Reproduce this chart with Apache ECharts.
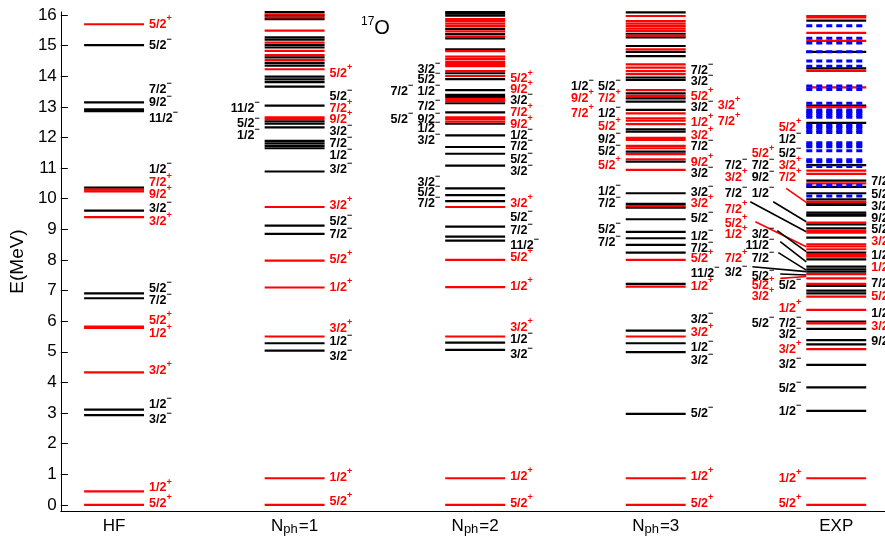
<!DOCTYPE html>
<html><head><meta charset="utf-8">
<script src="https://cdn.jsdelivr.net/npm/echarts@6/dist/echarts.min.js"></script>
<style>html,body{margin:0;padding:0;background:#fff}#c{width:885px;height:546px}</style>
</head><body><div id="c"></div>
<script>
// ---------------- data ----------------
const categories = ['HF', 'N_ph=1', 'N_ph=2', 'N_ph=3', 'EXP'];
const yTicks = [0,1,2,3,4,5,6,7,8,9,10,11,12,13,14,15,16];

// energy levels (MeV): positive parity (red) / negative parity (black)
const hfPos = [15.70, 10.30, 10.24, 9.40, 5.82, 5.78, 4.33, 0.44, 0.0];
const hfNeg = [15.02, 13.15, 12.92, 12.86, 10.36, 9.61, 6.91, 6.75, 3.11, 2.93];

const n1Pos = [16.02, 15.92, 15.49, 15.10, 14.83, 14.69, 14.53, 14.23, 12.66, 12.60, 9.73, 7.98, 7.10, 5.50, 0.87, 0.0];
const n1Neg = [16.10, 15.98, 15.87, 15.27, 15.20, 15.02, 14.94, 14.62, 14.44, 14.35, 13.99, 13.90, 13.81, 13.66, 13.04,
               12.53, 12.45, 12.33, 11.89, 11.81, 11.73, 11.65, 10.89, 9.12, 8.85, 5.28, 5.04];

const n2Pos = [15.87, 15.80, 15.72, 15.64, 15.47, 15.30, 14.82, 14.64, 14.56, 14.47, 14.40, 14.33, 14.17, 14.01,
               13.26, 13.19, 12.66, 12.60, 12.52, 9.73, 8.00, 7.11, 5.50, 0.87, 0.0];
const n2Neg = [16.10, 16.05, 15.98, 15.55, 15.38, 15.24, 14.88, 14.10, 13.91, 13.55, 13.39, 13.33, 13.12, 12.82,
               12.45, 12.07, 11.69, 11.47, 11.08, 10.34, 10.12, 9.92, 9.09, 8.76, 8.63, 5.30, 5.06];

const n3Pos = [15.97, 15.80, 15.72, 15.64, 15.56, 15.48, 15.33, 14.88, 14.39, 14.28, 14.17, 14.07, 13.55, 13.36,
               12.79, 12.63, 12.55, 12.44, 11.99, 11.92, 11.73, 11.65, 11.46, 11.29, 10.94, 9.76, 8.00, 7.13, 5.50, 0.87, 0.0];
const n3Neg = [16.09, 15.39, 15.27, 14.99, 14.80, 14.66, 13.96, 13.88, 13.44, 13.28, 13.17, 12.90, 12.27, 12.19,
               11.54, 11.21, 10.18, 9.83, 9.71, 9.33, 8.92, 8.71, 8.49, 8.24, 7.22, 5.69, 5.28, 4.99, 2.97];

const expPos = [15.97, 15.92, 15.42, 15.16, 14.18, 13.64, 12.99, 10.92, 10.81, 10.50, 9.90, 9.22, 8.95, 8.89, 8.51,
                8.44, 8.35, 8.16, 8.11, 7.54, 7.40, 7.22, 6.80, 6.37, 5.93, 5.09, 0.87, 0.0];
const expNeg = [15.82, 14.80, 14.26, 13.04, 12.48, 11.10, 10.59, 10.39, 10.18, 9.98, 9.85, 9.80, 9.55, 9.49, 9.45,
                9.16, 9.03, 8.73, 8.24, 8.02, 7.78, 7.69, 7.62, 7.15, 7.00, 6.91, 5.99, 5.75, 5.38, 5.24, 4.57, 3.84, 3.07];
const expUnknown = [15.65, 15.24, 15.09, 14.80, 14.50, 14.33, 13.68, 13.57, 13.12, 12.90, 12.84, 12.79, 12.72, 12.66,
                    12.41, 12.36, 12.30, 12.22, 12.16, 11.83, 11.76, 11.70, 11.57, 11.27, 11.21, 11.05, 10.44, 10.09];

// level labels: [spin, parity, label energy, slot]
const hfLabelsR = [['5/2','+',15.70,0],['5/2','-',15.02,0],['7/2','-',13.58,0],['9/2','-',13.15,0],['11/2','-',12.63,0],
  ['1/2','-',10.95,0],['7/2','+',10.52,0],['9/2','+',10.15,0],['3/2','-',9.69,0],['3/2','+',9.25,0],['5/2','-',7.07,0],
  ['7/2','-',6.67,0],['5/2','+',6.01,0],['1/2','+',5.61,0],['3/2','+',4.38,0],['1/2','-',3.27,0],['3/2','-',2.78,0],
  ['1/2','+',0.55,0],['5/2','+',0.05,0]];
const n1LabelsR = [['5/2','+',14.08,0],['5/2','-',13.35,0],['7/2','+',12.95,0],['9/2','+',12.60,0],['3/2','-',12.19,0],
  ['7/2','-',11.79,0],['1/2','-',11.40,0],['3/2','-',10.94,0],['3/2','+',9.77,0],['5/2','-',9.27,0],['7/2','-',8.82,0],
  ['5/2','+',8.02,0],['1/2','+',7.11,0],['3/2','+',5.77,0],['1/2','-',5.33,0],['3/2','-',4.84,0],['1/2','+',0.90,0],['5/2','+',0.11,0]];
const n1LabelsL = [['11/2','-',12.95,0],['5/2','-',12.44,0],['1/2','-',12.05,0]];
const n2LabelsR = [['5/2','+',13.91,0],['9/2','+',13.57,0],['3/2','-',13.22,0],['7/2','+',12.82,0],['9/2','+',12.41,0],
  ['1/2','-',12.06,0],['7/2','-',11.70,0],['5/2','-',11.27,0],['3/2','-',10.88,0],['3/2','+',9.85,0],['5/2','-',9.39,0],
  ['7/2','-',8.96,0],['11/2','-',8.47,0],['5/2','+',8.09,0],['1/2','+',7.13,0],['3/2','+',5.80,0],['1/2','-',5.39,0],
  ['3/2','-',4.90,0],['1/2','+',0.92,0],['5/2','+',0.05,0]];
const n2LabelsL = [['3/2','-',14.22,0],['5/2','-',13.88,0],['1/2','-',13.50,0],['7/2','-',13.50,1],['7/2','-',13.01,0],
  ['9/2','-',12.60,0],['5/2','-',12.60,1],['1/2','-',12.30,0],['3/2','-',11.90,0],['3/2','-',10.52,0],['5/2','-',10.20,0],['7/2','-',9.83,0]];
const n3LabelsR = [['7/2','-',14.18,0],['3/2','-',13.82,0],['5/2','+',13.33,0],['3/2','-',12.99,0],['3/2','+',13.03,1],
  ['1/2','+',12.48,0],['7/2','+',12.52,1],['3/2','+',12.08,0],['7/2','-',11.70,0],['9/2','+',11.19,0],['3/2','-',10.81,0],
  ['3/2','-',10.20,0],['3/2','+',9.83,0],['5/2','-',9.36,0],['1/2','-',8.78,0],['7/2','-',8.38,0],['5/2','+',8.06,0],
  ['11/2','-',7.56,0],['1/2','+',7.13,0],['3/2','-',6.04,0],['3/2','+',5.63,0],['1/2','-',5.15,0],['3/2','-',4.73,0],
  ['5/2','-',2.97,0],['1/2','+',0.92,0],['5/2','+',0.05,0]];
const n3LabelsL = [['5/2','-',13.66,0],['1/2','-',13.66,1],['7/2','+',13.26,0],['9/2','+',13.26,1],['1/2','-',12.79,0],
  ['7/2','+',12.79,1],['5/2','+',12.35,0],['9/2','-',11.94,0],['5/2','-',11.54,0],['5/2','+',11.10,0],['1/2','-',10.23,0],
  ['7/2','-',9.83,0],['5/2','-',8.98,0],['7/2','-',8.57,0]];
const expLabelsL = [['5/2','+',12.33,0],['1/2','-',11.92,0],['5/2','-',11.46,0],['5/2','+',11.46,1],['3/2','+',11.08,0],
  ['7/2','-',11.08,1],['7/2','-',11.08,2],['7/2','+',10.70,0],['9/2','-',10.70,1],['3/2','+',10.70,2],['1/2','-',10.18,1],
  ['7/2','-',10.18,2],['7/2','+',9.65,2],['5/2','+',9.18,2],['3/2','-',8.82,1],['1/2','+',8.82,2],['11/2','-',8.46,1],
  ['7/2','-',8.06,1],['7/2','+',8.06,2],['3/2','-',7.59,2],['5/2','-',7.46,1],['5/2','-',7.18,0],['5/2','+',7.18,1],
  ['3/2','+',6.80,1],['1/2','+',6.42,0],['7/2','-',5.93,0],['5/2','-',5.93,1],['3/2','-',5.55,0],['3/2','+',5.06,0],
  ['3/2','-',4.57,0],['5/2','-',3.81,0],['1/2','-',3.05,0],['1/2','+',0.87,0],['5/2','+',0.05,0]];
const expLabelsR = [['7/2','-',10.56,0],['5/2','-',10.15,0],['3/2','-',9.74,0],['9/2','-',9.36,0],['5/2','-',9.00,0],
  ['3/2','+',8.60,0],['1/2','-',8.16,0],['1/2','+',7.76,0],['7/2','-',7.22,0],['5/2','+',6.80,0],['1/2','-',6.24,0],
  ['3/2','+',5.84,0],['9/2','-',5.33,0]];
// EXP leader lines: [start energy, start slot, level energy, parity]
const expLeaders = [[10.34,0.56,9.88,'+'],[9.90,1.04,9.25,'-'],[9.90,1.89,8.92,'-'],[9.25,1.70,8.43,'+'],
  [8.96,0.89,8.27,'-'],[8.60,0.78,7.94,'-'],[8.24,0.85,7.67,'-'],[7.78,1.81,7.62,'-'],[7.54,0.78,7.51,'-'],[7.40,0.78,7.46,'+']];

// ---------------- build ----------------
const RED = '#ff0000', BLACK = '#000000', BLUE = '#0000ff';
const FONT = "'Liberation Sans', Arial, Helvetica, sans-serif";
const HALF = 0.166, SLOT = 27;

const levels = [];
function addLv(col, arr, kind) { arr.forEach(e => levels.push([col, e, kind])); }
addLv(1, hfNeg, 'n'); addLv(1, hfPos, 'p');
addLv(2, n1Neg, 'n'); addLv(2, n1Pos, 'p');
addLv(3, n2Neg, 'n'); addLv(3, n2Pos, 'p');
addLv(4, n3Neg, 'n'); addLv(4, n3Pos, 'p');
addLv(5, expNeg, 'n'); addLv(5, expPos, 'p'); addLv(5, expUnknown, 'u');

const labels = [];
function addLb(col, side, arr) { arr.forEach(l => labels.push({col, side, spin: l[0], par: l[1], E: l[2], slot: l[3]})); }
addLb(1, 'R', hfLabelsR);
addLb(2, 'R', n1LabelsR); addLb(2, 'L', n1LabelsL);
addLb(3, 'R', n2LabelsR); addLb(3, 'L', n2LabelsL);
addLb(4, 'R', n3LabelsR); addLb(4, 'L', n3LabelsL);
addLb(5, 'R', expLabelsR); addLb(5, 'L', expLabelsL);

const rich = {
  ar: {fontFamily: FONT, fontWeight: 'bold', fontSize: 12.5, lineHeight: 17, verticalAlign: 'bottom', fill: RED},
  sr: {fontFamily: FONT, fontWeight: 'bold', fontSize: 9, lineHeight: 9, verticalAlign: 'top', fill: RED},
  ab: {fontFamily: FONT, fontWeight: 'bold', fontSize: 12.5, lineHeight: 17, verticalAlign: 'bottom', fill: BLACK},
  sb: {fontFamily: FONT, fontWeight: 'bold', fontSize: 9, lineHeight: 9, verticalAlign: 'top', fill: BLACK}
};

const chart = echarts.init(document.getElementById('c'), null, {renderer: 'canvas'});
chart.setOption({
  animation: false,
  backgroundColor: '#fff',
  grid: {left: 60, right: 0, top: 12, bottom: 35, containLabel: false},
  xAxis: {
    type: 'value', min: 0.705, max: 5.27,
    splitLine: {show: false}, axisTick: {show: false},
    axisLine: {show: true, onZero: false, lineStyle: {color: '#000', width: 1}},
    axisLabel: {
      customValues: [1, 2, 3, 4, 5], margin: 7, color: '#000',
      formatter: v => {
        const c = categories[Math.round(v) - 1] || '';
        if (c.indexOf('N_ph') === 0) return '{n|N}{sub|ph}{n|' + c.slice(4) + '}';
        return '{n|' + c + '}';
      },
      rich: {
        n: {fontFamily: FONT, fontSize: 17, lineHeight: 18, verticalAlign: 'top', color: '#000'},
        sub: {fontFamily: FONT, fontSize: 13, lineHeight: 14, verticalAlign: 'bottom', color: '#000', padding: [9, 1, 0, 0]}
      }
    }
  },
  yAxis: {
    type: 'value', min: -0.2, max: 16.1,
    name: 'E(MeV)', nameLocation: 'middle', nameGap: 27, nameRotate: 90,
    nameTextStyle: {fontFamily: FONT, fontSize: 19, color: '#000'},
    splitLine: {show: false},
    axisLine: {show: true, onZero: false, lineStyle: {color: '#000', width: 1}},
    axisTick: {show: true, inside: true, length: 7, customValues: yTicks, lineStyle: {color: '#000'}},
    axisLabel: {customValues: yTicks, fontFamily: FONT, fontSize: 17, color: '#000', margin: 4}
  },
  graphic: [{
    type: 'text', left: 361, top: 16, silent: true,
    style: {text: '{s|17}{o|O}', rich: {
      s: {fontFamily: FONT, fontSize: 12, lineHeight: 22, verticalAlign: 'top', fill: '#000'},
      o: {fontFamily: FONT, fontSize: 20, lineHeight: 22, verticalAlign: 'bottom', fill: '#000'}
    }}
  }],
  series: [
    {
      type: 'custom', name: 'levels', clip: false,
      data: levels.map(d => [d[0], d[1]]),
      encode: {x: 0, y: 1},
      renderItem: (params, api) => {
        const d = levels[params.dataIndex];
        const p = api.coord([d[0], d[1]]);
        const hw = api.size([HALF, 0])[0];
        const kind = d[2];
        return {
          type: 'line', z2: kind === 'u' ? 3 : (kind === 'p' ? 2 : 1),
          shape: {x1: p[0] - hw, y1: p[1], x2: p[0] + hw, y2: p[1]},
          style: {
            stroke: kind === 'p' ? RED : (kind === 'n' ? BLACK : BLUE),
            lineWidth: kind === 'u' ? 3 : 2.2,
            lineDash: kind === 'u' ? [6, 4] : null
          }
        };
      }
    },
    {
      type: 'custom', name: 'leaders', clip: false,
      data: expLeaders.map(d => [5, d[2]]),
      encode: {x: 0, y: 1},
      renderItem: (params, api) => {
        const d = expLeaders[params.dataIndex];
        const end = api.coord([5, d[2]]);
        const st = api.coord([5, d[0]]);
        const hw = api.size([HALF, 0])[0];
        const x2 = end[0] - hw;
        const x1 = x2 - 5 - d[1] * SLOT;
        return {type: 'line', shape: {x1: x1, y1: st[1], x2: x2, y2: end[1]},
          style: {stroke: d[3] === '+' ? RED : BLACK, lineWidth: 1.6}};
      }
    },
    {
      type: 'custom', name: 'labels', clip: false,
      data: labels.map(l => [l.col, l.E]),
      encode: {x: 0, y: 1},
      renderItem: (params, api) => {
        const l = labels[params.dataIndex];
        const p = api.coord([l.col, l.E]);
        const hw = api.size([HALF, 0])[0];
        const red = l.par === '+';
        const x = l.side === 'R' ? p[0] + hw + 5 + l.slot * SLOT : p[0] - hw - 5 - l.slot * SLOT;
        const sign = l.par === '+' ? '+' : '\u2212';
        return {
          type: 'text', x: x, y: p[1] - 2,
          style: {
            text: '{' + (red ? 'ar' : 'ab') + '|' + l.spin + '}{' + (red ? 'sr' : 'sb') + '|' + sign + '}',
            rich: rich, align: l.side === 'R' ? 'left' : 'right', verticalAlign: 'middle'
          }
        };
      }
    }
  ]
});
</script></body></html>
